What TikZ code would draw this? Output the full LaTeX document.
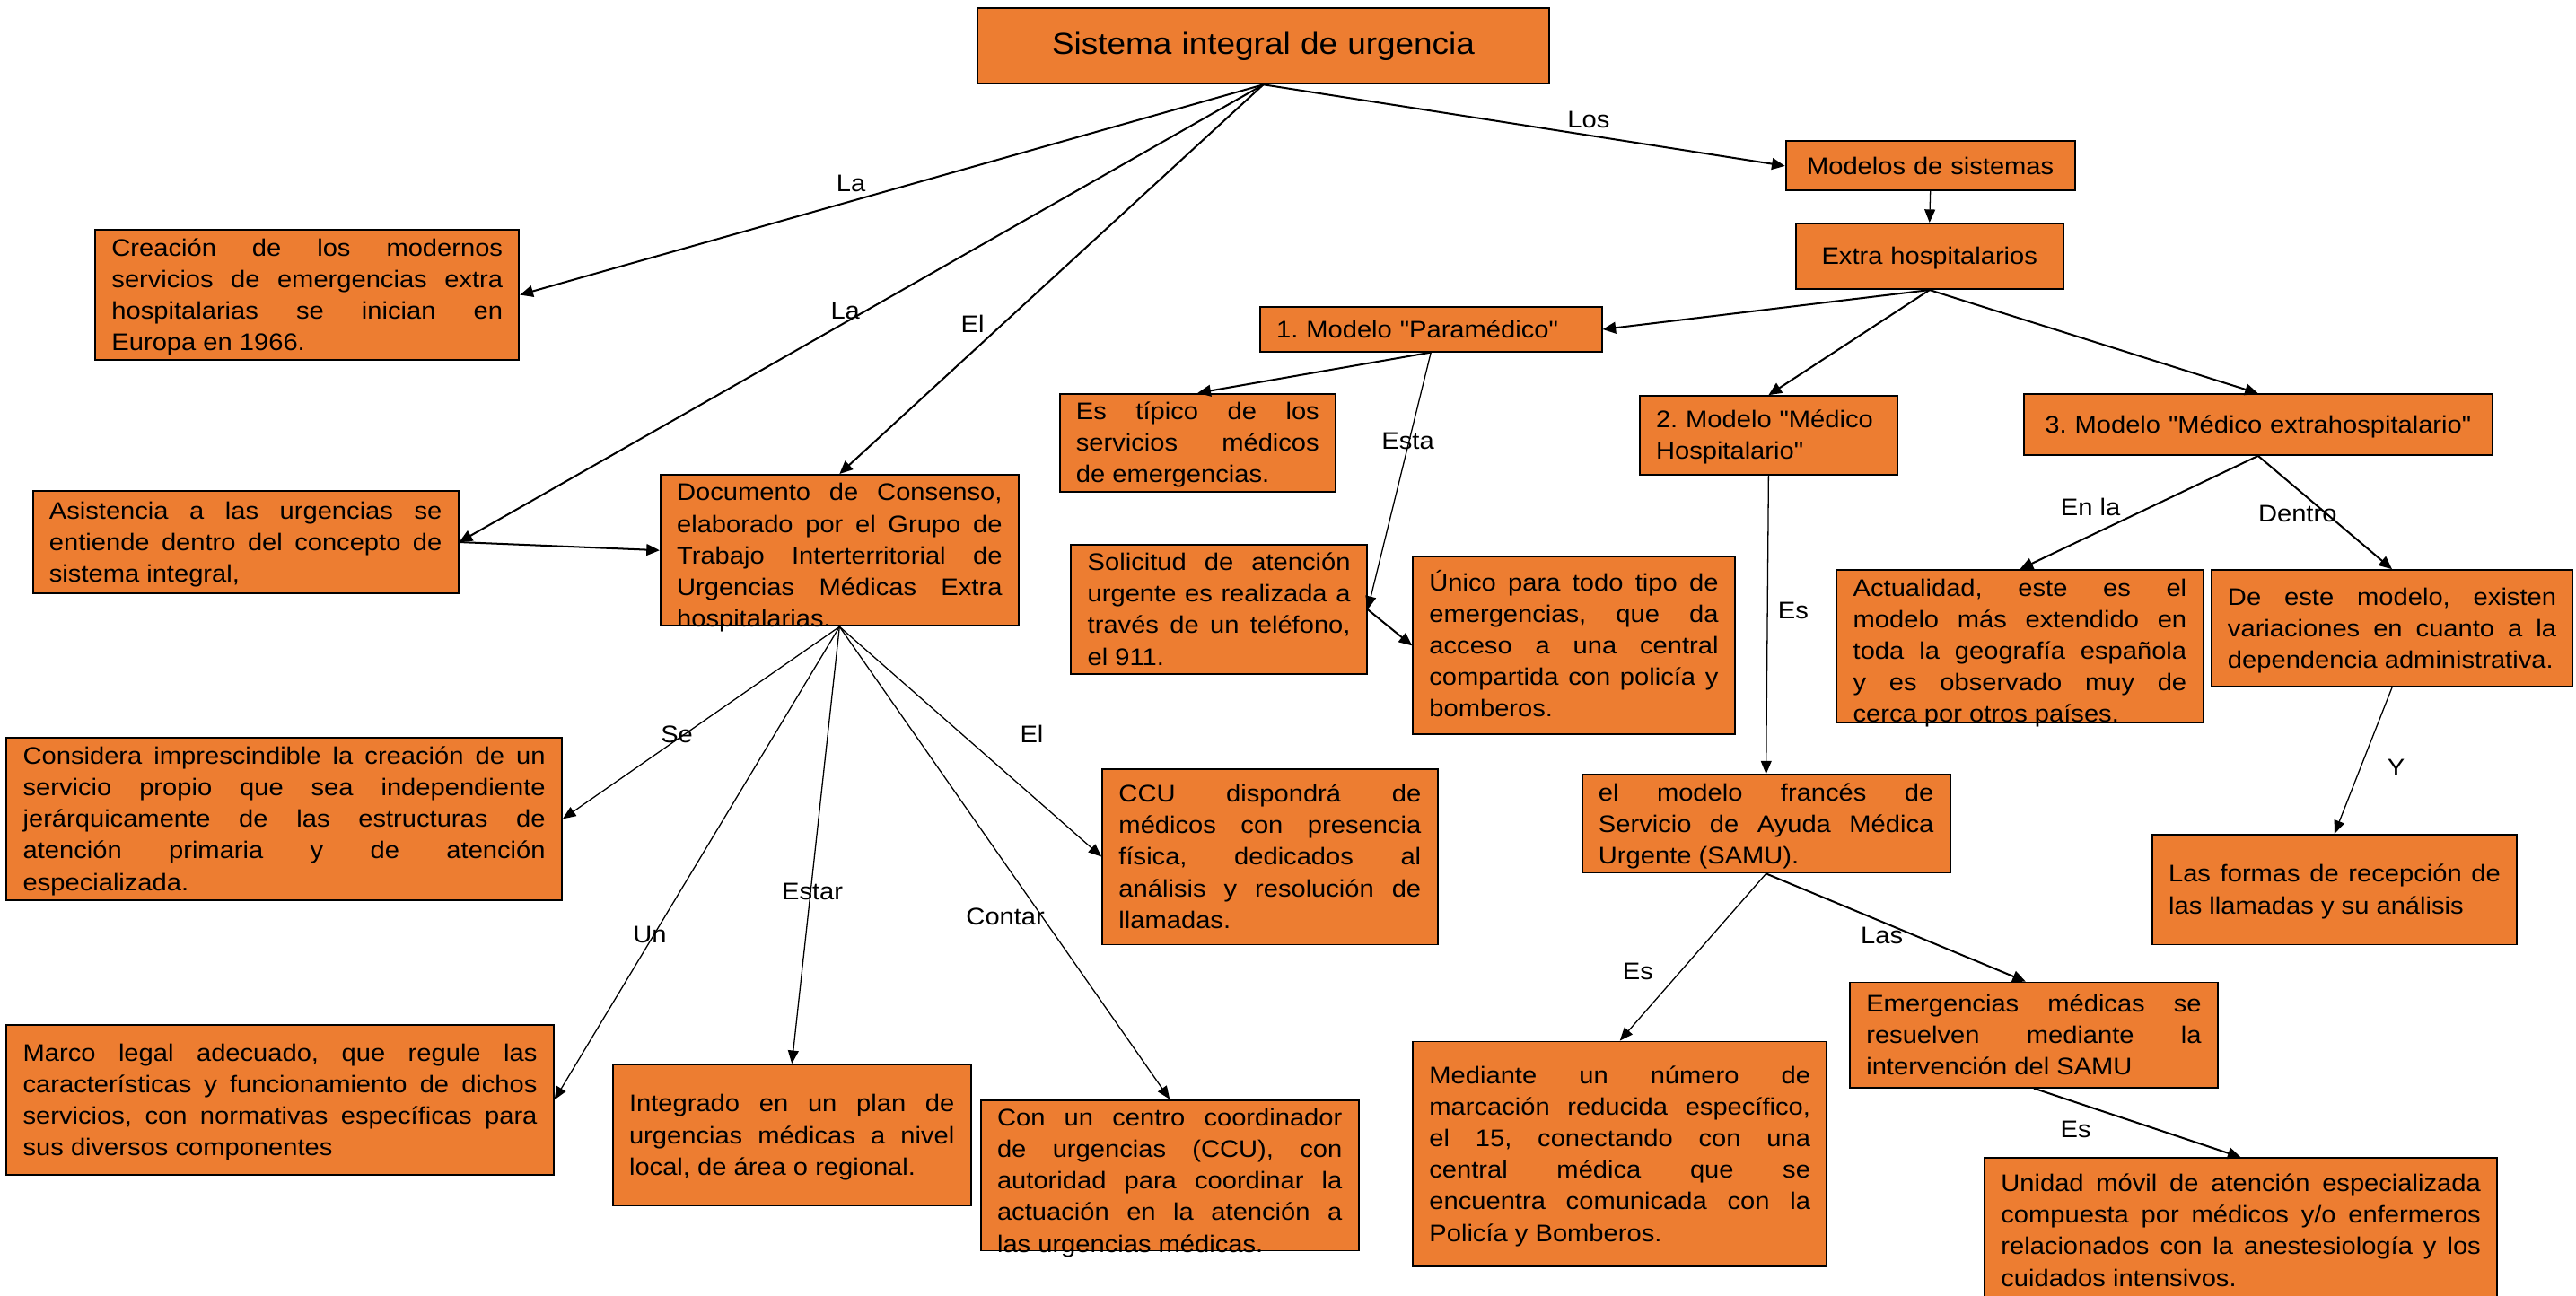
\documentclass[tikz,border=0pt]{standalone}
\usepackage{fontspec}
\newfontfamily\lib{Liberation Sans}[FakeStretch=1.09]
\usetikzlibrary{arrows.meta}
\definecolor{orng}{HTML}{ED7D31}
\newcommand{\bodyfont}{\lib\fontsize{14.6}{19.2}\selectfont}
\newcommand{\titlefont}{\lib\fontsize{18.5}{22}\selectfont}
\newcommand{\wstrut}{\rule[-4.5pt]{0pt}{19.2pt}}
\hyphenpenalty=10000
\exhyphenpenalty=10000
\tolerance=10000
\frenchspacing
\begin{document}
\frenchspacing
\begin{tikzpicture}[x=1pt,y=-1pt,
  box/.style={draw=black, line width=1pt, fill=orng, rectangle, inner xsep=10pt, inner ysep=1pt, font=\bodyfont, align=justify,
    execute at begin node={\frenchspacing\wstrut}, execute at end node={\wstrut}},
  tbox/.style={draw=black, line width=1pt, fill=orng, rectangle, inner xsep=10pt, inner ysep=1pt, font=\titlefont, align=center},
  over/.style={text height=14.7pt, text depth=75pt},
  lbl/.style={font=\bodyfont, inner sep=0pt},
  thk/.style={-{Triangle[length=8pt,width=7pt]}, line width=1.1pt},
  thn/.style={-{Triangle[length=8pt,width=6.5pt]}, line width=0.7pt}]
\useasboundingbox (0,0) rectangle (1568,788.9);

% boxes
\node[tbox, minimum width=348pt, minimum height=46pt, text width=328pt] (title) at (769,28) {Sistema integral de urgencia};
\node[box, minimum width=258pt, minimum height=79pt, text width=238pt] (crea) at (187,179.5) {Creación de los modernos\linebreak servicios de emergencias extra\linebreak hospitalarias se inician en\linebreak Europa en 1966.};
\node[box, minimum width=259pt, minimum height=62pt, text width=239pt] (asis) at (149.5,330) {Asistencia a las urgencias se\linebreak entiende dentro del concepto de\linebreak sistema integral,};
\node[box, over, minimum width=218pt, minimum height=92pt, text width=198pt] (doc) at (511,335) {Documento de Consenso,\linebreak elaborado por el Grupo de\linebreak Trabajo Interterritorial de\linebreak Urgencias Médicas Extra\linebreak hospitalarias.};
\node[box, minimum width=176pt, minimum height=30pt, text width=156pt, align=center] (modelos) at (1175,101) {Modelos de sistemas};
\node[box, minimum width=163pt, minimum height=40pt, text width=143pt, align=center] (extra) at (1174.5,156) {Extra hospitalarios};
\node[box, minimum width=208pt, minimum height=27pt, text width=188pt, align=left] (m1) at (871,200.5) {1. Modelo "Paramédico"};
\node[box, minimum width=168pt, minimum height=57pt, text width=148pt] (estip) at (729,269.5) {Es típico de los\linebreak servicios médicos\linebreak de emergencias.};
\node[box, minimum width=157pt, minimum height=48pt, text width=137pt, align=left] (m2) at (1076.5,265) {2. Modelo "Médico\\Hospitalario"};
\node[box, minimum width=285pt, minimum height=37pt, text width=265pt, align=center] (m3) at (1374.5,258.5) {3. Modelo "Médico extrahospitalario"};
\node[box, minimum width=180pt, minimum height=74pt, text width=160pt] (sol) at (742,371) {Solicitud de atención\linebreak urgente es realizada a\linebreak través de un teléfono,\linebreak el 911.};
\node[box, minimum width=196pt, minimum height=108pt, text width=176pt] (unico) at (958,393) {Único para todo tipo de\linebreak emergencias, que da\linebreak acceso a una central\linebreak compartida con policía y\linebreak bomberos.};
\node[box, over, text depth=76pt, minimum width=223pt, minimum height=93pt, text width=203pt] (actual) at (1229.5,393.5) {Actualidad, este es el\linebreak modelo más extendido en\linebreak toda la geografía española\linebreak y es observado muy de\linebreak cerca por otros países.};
\node[box, minimum width=220pt, minimum height=71pt, text width=200pt] (deeste) at (1456,382.5) {De este modelo, existen\linebreak variaciones en cuanto a la\linebreak dependencia administrativa.};
\node[box, minimum width=338pt, minimum height=99pt, text width=318pt] (considera) at (173,498.5) {Considera imprescindible la creación de un\linebreak servicio propio que sea independiente\linebreak jerárquicamente de las estructuras de\linebreak atención primaria y de atención\linebreak especializada.};
\node[box, minimum width=204pt, minimum height=107pt, text width=184pt] (ccu) at (773,521.5) {CCU dispondrá de\linebreak médicos con presencia\linebreak física, dedicados al\linebreak análisis y resolución de\linebreak llamadas.};
\node[box, minimum width=224pt, minimum height=57pt, text width=204pt] (samu) at (1075,501.5) {el modelo francés de\linebreak Servicio de Ayuda Médica\linebreak Urgente (SAMU).};
\node[box, minimum width=222pt, minimum height=67pt, text width=202pt] (formas) at (1421,541.5) {Las formas de recepción de\linebreak las llamadas y su análisis};
\node[box, minimum width=333pt, minimum height=91pt, text width=313pt] (marco) at (170.5,669.5) {Marco legal adecuado, que regule las\linebreak características y funcionamiento de dichos\linebreak servicios, con normativas específicas para\linebreak sus diversos componentes};
\node[box, minimum width=218pt, minimum height=86pt, text width=198pt] (integ) at (482,691) {Integrado en un plan de\linebreak urgencias médicas a nivel\linebreak local, de área o regional.};
\node[box, over, minimum width=230pt, minimum height=91pt, text width=210pt] (conun) at (712,715.5) {Con un centro coordinador\linebreak de urgencias (CCU), con\linebreak autoridad para coordinar la\linebreak actuación en la atención a\linebreak las urgencias médicas.};
\node[box, minimum width=252pt, minimum height=137pt, text width=232pt] (mediante) at (986,702.5) {Mediante un número de\linebreak marcación reducida específico,\linebreak el 15, conectando con una\linebreak central médica que se\linebreak encuentra comunicada con la\linebreak Policía y Bomberos.};
\node[box, minimum width=224pt, minimum height=64pt, text width=204pt] (emerg) at (1238,630) {Emergencias médicas se\linebreak resuelven mediante la\linebreak intervención del SAMU};
\node[box, minimum width=312pt, minimum height=88pt, text width=292pt] (unidad) at (1364,749) {Unidad móvil de atención especializada\linebreak compuesta por médicos y/o enfermeros\linebreak relacionados con la anestesiología y los\linebreak cuidados intensivos.};

% connectors
\draw[thk] (title.south) -- (crea.east);
\draw[thk] (title.south) -- (asis.east);
\draw[thk] (title.south) -- (doc.north);
\draw[thk] (title.south) -- (modelos.west);
\draw[thk] (asis.east) -- (doc.west);
\draw[thn] (modelos.south) -- (extra.north);
\draw[thk] (extra.south) -- (m1.east);
\draw[thk] (extra.south) -- (m2.north);
\draw[thk] (extra.south) -- (m3.north);
\draw[thk] (m1.south) -- (estip.north);
\draw[thn] (m1.south) -- (sol.east);
\draw[thk] (sol.east) -- (unico.west);
\draw[thn] (m2.south) -- (samu.north);
\draw[thk] (m3.south) -- (actual.north);
\draw[thk] (m3.south) -- (deeste.north);
\draw[thn] (deeste.south) -- (formas.north);
\draw[thn] (doc.south) -- (considera.east);
\draw[thn] (doc.south) -- (marco.east);
\draw[thn] (doc.south) -- (integ.north);
\draw[thn] (doc.south) -- (conun.north);
\draw[thn] (doc.south) -- (ccu.west);
\draw[thn] (samu.south) -- (mediante.north);
\draw[thk] (samu.south) -- ([xshift=-5pt]emerg.north);
\draw[thk] (emerg.south) -- (unidad.north);

% labels
\node[lbl] (l1) at (518,111.5) {La};
\node[lbl] (l2) at (514.5,189.5) {La};
\node[lbl] (l3) at (592,197) {El};
\node[lbl] (l4) at (967,73) {Los};
\node[lbl] (l5) at (857,268.5) {Esta};
\node[lbl] (l6) at (1091.5,372) {Es};
\node[lbl] (l7) at (1272.5,308.5) {En la};
\node[lbl] (l8) at (1398.5,313) {Dentro};
\node[lbl] (l9) at (1458.5,467.5) {Y};
\node[lbl] (l10) at (412,447) {Se};
\node[lbl] (l11) at (628,447) {El};
\node[lbl] (l12) at (395.5,569) {Un};
\node[lbl] (l13) at (494.5,543) {Estar};
\node[lbl] (l14) at (612,558) {Contar};
\node[lbl] (l15) at (997,591.5) {Es};
\node[lbl] (l16) at (1145.5,569.5) {Las};
\node[lbl] (l17) at (1263.5,687.5) {Es};
\end{tikzpicture}
\end{document}
